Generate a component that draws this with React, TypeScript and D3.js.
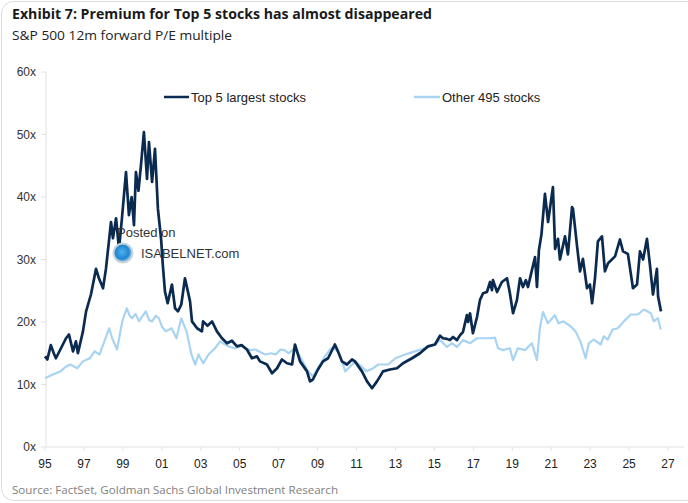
import * as d3 from "d3";

// S&P 500 12m forward P/E
const top5: [number, number][] = [
  [1995.0, 14.5], [1995.12, 14.0], [1995.3, 16.3], [1995.45, 15.0], [1995.56, 14.2],
  [1995.82, 15.8], [1996.08, 17.4], [1996.23, 18.0], [1996.44, 15.3], [1996.59, 16.9],
  [1996.69, 15.0], [1996.95, 18.5], [1997.11, 21.7], [1997.36, 24.4], [1997.62, 28.5],
  [1997.77, 27.0], [1997.98, 25.4], [1998.13, 28.5], [1998.39, 36.0], [1998.49, 33.4],
  [1998.65, 36.6], [1998.8, 31.7], [1998.95, 36.5], [1999.16, 44.0], [1999.31, 37.1],
  [1999.45, 40.0], [1999.57, 35.5], [1999.67, 44.0], [1999.8, 41.0], [1999.93, 45.1],
  [2000.08, 50.4], [2000.24, 42.9], [2000.34, 48.8], [2000.5, 42.4], [2000.65, 47.7],
  [2000.8, 38.1], [2000.96, 33.4], [2001.05, 29.2], [2001.16, 24.9], [2001.3, 23.0],
  [2001.52, 26.0], [2001.68, 22.2], [2001.83, 21.7], [2002.0, 22.8], [2002.19, 27.0],
  [2002.45, 23.3], [2002.55, 20.1], [2002.81, 19.0], [2003.06, 18.5], [2003.12, 20.1],
  [2003.35, 19.4], [2003.58, 20.1], [2003.83, 18.5], [2004.09, 17.4], [2004.35, 16.6],
  [2004.6, 17.0], [2004.86, 16.1], [2005.1, 16.3], [2005.37, 15.6], [2005.63, 14.2],
  [2005.89, 14.5], [2006.04, 13.7], [2006.4, 13.2], [2006.66, 11.8], [2006.92, 12.6],
  [2007.17, 14.0], [2007.43, 13.4], [2007.69, 13.2], [2007.84, 16.4], [2008.1, 13.7],
  [2008.46, 12.1], [2008.61, 10.5], [2008.76, 10.8], [2009.02, 12.4], [2009.28, 13.7],
  [2009.54, 14.2], [2009.89, 16.4], [2010.05, 15.3], [2010.25, 13.7], [2010.51, 13.2],
  [2010.77, 14.0], [2010.92, 13.7], [2011.28, 12.1], [2011.54, 10.5], [2011.8, 9.4],
  [2012.05, 10.5], [2012.21, 11.3], [2012.36, 12.1], [2012.72, 12.4], [2013.08, 12.6],
  [2013.39, 13.4], [2013.85, 14.2], [2014.26, 15.0], [2014.67, 16.1], [2015.03, 16.4],
  [2015.29, 17.8], [2015.44, 17.4], [2015.65, 17.3], [2015.8, 17.1], [2015.96, 17.6],
  [2016.16, 17.1], [2016.32, 17.9], [2016.47, 18.4], [2016.67, 21.1], [2016.73, 20.0],
  [2016.83, 21.4], [2016.98, 18.2], [2017.19, 20.8], [2017.34, 23.5], [2017.5, 24.6],
  [2017.7, 24.8], [2017.86, 26.4], [2017.96, 25.1], [2018.01, 26.7], [2018.22, 24.8],
  [2018.47, 26.4], [2018.73, 27.0], [2018.88, 24.6], [2019.04, 21.4], [2019.24, 23.5],
  [2019.4, 27.0], [2019.55, 25.6], [2019.7, 26.7], [2019.81, 25.6], [2020.01, 28.3],
  [2020.17, 30.4], [2020.27, 25.6], [2020.37, 31.5], [2020.5, 34.0], [2020.68, 40.5],
  [2020.84, 36.0], [2021.09, 41.6], [2021.2, 31.7], [2021.35, 33.3], [2021.45, 30.0],
  [2021.71, 33.7], [2021.86, 30.8], [2022.07, 38.4], [2022.12, 38.1], [2022.33, 32.1],
  [2022.48, 28.1], [2022.63, 30.1], [2022.84, 25.4], [2022.99, 26.0], [2023.1, 23.0],
  [2023.25, 27.0], [2023.4, 32.9], [2023.61, 33.7], [2023.76, 28.1], [2023.92, 29.4],
  [2024.28, 30.5], [2024.53, 33.2], [2024.69, 31.3], [2024.94, 30.9], [2025.2, 25.4],
  [2025.41, 26.0], [2025.56, 31.3], [2025.72, 30.0], [2025.92, 33.3], [2026.07, 29.2],
  [2026.23, 24.4], [2026.43, 28.5], [2026.49, 24.1], [2026.64, 21.7],
];

const other495: [number, number][] = [
  [1995.0, 11.0], [1995.4, 11.6], [1995.8, 12.1], [1996.05, 12.8], [1996.3, 13.2],
  [1996.65, 12.6], [1996.95, 13.7], [1997.3, 14.2], [1997.55, 15.3], [1997.8, 14.8],
  [1998.05, 16.9], [1998.3, 19.0], [1998.45, 17.4], [1998.7, 15.6], [1998.97, 20.1],
  [1999.2, 22.2], [1999.35, 21.0], [1999.47, 20.6], [1999.65, 21.3], [1999.83, 20.1],
  [2000.0, 20.9], [2000.18, 21.7], [2000.35, 20.3], [2000.5, 20.1], [2000.7, 21.0],
  [2000.85, 20.6], [2001.0, 19.3], [2001.2, 18.5], [2001.5, 19.0], [2001.75, 17.4],
  [2002.0, 20.6], [2002.27, 18.5], [2002.52, 14.8], [2002.72, 13.2], [2002.88, 14.8],
  [2003.13, 13.4], [2003.4, 14.8], [2003.73, 15.8], [2004.0, 16.9], [2004.25, 16.4],
  [2004.5, 16.0], [2004.77, 15.8], [2005.05, 16.2], [2005.3, 15.8], [2005.55, 15.5],
  [2005.8, 15.6], [2006.05, 15.2], [2006.3, 14.8], [2006.6, 15.0], [2006.85, 14.8],
  [2007.1, 15.6], [2007.3, 15.5], [2007.5, 15.0], [2007.85, 15.8], [2008.15, 14.2],
  [2008.5, 12.1], [2008.77, 11.3], [2009.02, 12.6], [2009.38, 14.5], [2009.7, 15.8],
  [2009.95, 15.6], [2010.17, 14.5], [2010.42, 12.1], [2010.68, 12.9], [2010.94, 13.7],
  [2011.25, 12.9], [2011.5, 12.1], [2011.86, 12.6], [2012.12, 13.2], [2012.63, 13.2],
  [2013.0, 14.2], [2013.5, 14.8], [2014.0, 15.3], [2014.5, 15.8], [2015.03, 16.4],
  [2015.29, 17.1], [2015.65, 16.0], [2015.9, 16.6], [2016.16, 16.0], [2016.47, 17.1],
  [2016.83, 16.6], [2017.19, 17.4], [2017.5, 17.4], [2017.86, 17.4], [2018.11, 17.5],
  [2018.27, 15.8], [2018.52, 15.5], [2018.88, 15.8], [2019.04, 13.9], [2019.29, 15.8],
  [2019.65, 15.5], [2020.01, 16.6], [2020.27, 13.9], [2020.42, 19.0], [2020.58, 21.6],
  [2020.83, 19.8], [2021.19, 21.1], [2021.37, 19.8], [2021.63, 20.1], [2022.0, 19.3],
  [2022.25, 18.5], [2022.5, 16.9], [2022.77, 14.2], [2022.93, 16.6], [2023.18, 17.2],
  [2023.54, 16.4], [2023.7, 17.7], [2023.9, 17.2], [2024.16, 18.8], [2024.42, 19.0],
  [2024.73, 20.1], [2025.09, 21.2], [2025.45, 21.2], [2025.76, 22.0], [2026.12, 21.4],
  [2026.27, 20.1], [2026.48, 20.6], [2026.63, 18.8],
];

const yTicks = [0, 10, 20, 30, 40, 50, 60];
const xTicks = [1995, 1997, 1999, 2001, 2003, 2005, 2007, 2009, 2011, 2013, 2015, 2017, 2019, 2021, 2023, 2025, 2027];

const W = 688;
const H = 503;
const DARK = "#0b2a50";
const LIGHT = "#a8d4f2";
const AXIS = "#e2e2e2";
const sans = "'Liberation Sans', Arial, sans-serif";
const head = "'Open Sans', 'Noto Sans', sans-serif";

export default function App() {
  const x = d3.scaleLinear().domain([1995, 2027]).range([45, 668]);
  const y = d3.scaleLinear().domain([0, 60]).range([447, 72]);
  const line = d3
    .line<[number, number]>()
    .x((d) => x(d[0]))
    .y((d) => y(d[1]));

  return (
    <div style={{ position: "fixed", left: 0, top: 0 }}>
      <svg width={W} height={H} style={{ display: "block", background: "#fff" }}>
        <defs>
          <radialGradient id="globe" cx="45%" cy="45%" r="60%">
            <stop offset="0%" stopColor="#4fb3f0" />
            <stop offset="60%" stopColor="#1f86cf" />
            <stop offset="100%" stopColor="#d4e6f3" />
          </radialGradient>
        </defs>
        <rect x={1.5} y={1.5} width={W + 8} height={H - 4} rx={12} fill="none" stroke="#dcdcdc" />

        <text x={12} y={19} fontFamily={head} fontWeight={700} fontSize={14.5} fill="#1a1a1a" textLength={420} lengthAdjust="spacingAndGlyphs">
          Exhibit 7: Premium for Top 5 stocks has almost disappeared
        </text>
        <text x={12} y={40} fontFamily={head} fontSize={12.5} fill="#222" textLength={220} lengthAdjust="spacingAndGlyphs">
          S&amp;P 500 12m forward P/E multiple
        </text>

        {/* y axis */}
        <line x1={46} x2={46} y1={y(60)} y2={y(0)} stroke={AXIS} />
        {yTicks.map((t) => (
          <g key={t}>
            <line x1={41} x2={46} y1={y(t)} y2={y(t)} stroke={AXIS} />
            <text x={36} y={y(t)} dy="0.35em" textAnchor="end" fontFamily={sans} fontSize={12} fill="#333">
              {t}x
            </text>
          </g>
        ))}

        {/* x axis */}
        <line x1={45} x2={684} y1={y(0)} y2={y(0)} stroke={AXIS} />
        {xTicks.map((t) => (
          <g key={t}>
            <line x1={x(t)} x2={x(t)} y1={y(0)} y2={y(0) + 4} stroke={AXIS} />
            <text x={x(t)} y={468} textAnchor="middle" fontFamily={sans} fontSize={12} fill="#222">
              {String(t % 100).padStart(2, "0")}
            </text>
          </g>
        ))}

        {/* legend */}
        <line x1={164} x2={189} y1={97} y2={97} stroke={DARK} strokeWidth={2.5} />
        <text x={191} y={97} dy="0.35em" fontFamily={sans} fontSize={13} fill="#222">
          Top 5 largest stocks
        </text>
        <line x1={414} x2={440} y1={97} y2={97} stroke={LIGHT} strokeWidth={2.5} />
        <text x={442} y={97} dy="0.35em" fontFamily={sans} fontSize={13} fill="#222">
          Other 495 stocks
        </text>

        <path d={line(other495) ?? ""} fill="none" stroke={LIGHT} strokeWidth={2.2} strokeLinejoin="round" />
        <path d={line(top5) ?? ""} fill="none" stroke={DARK} strokeWidth={2.7} strokeLinejoin="round" />

        {/* watermark */}
        <text x={117} y={237} fontFamily={sans} fontSize={13} fill="#333">
          Posted on
        </text>
        <circle cx={123} cy={253} r={9.5} fill="url(#globe)" stroke="#c8d3dc" strokeWidth={2} />
        <text x={141} y={254} dy="0.3em" fontFamily={sans} fontSize={13} fill="#333">
          ISABELNET.com
        </text>

        <text x={12} y={494} fontFamily={head} fontSize={11.5} fill="#808080" textLength={326} lengthAdjust="spacingAndGlyphs">
          Source: FactSet, Goldman Sachs Global Investment Research
        </text>
      </svg>
    </div>
  );
}
